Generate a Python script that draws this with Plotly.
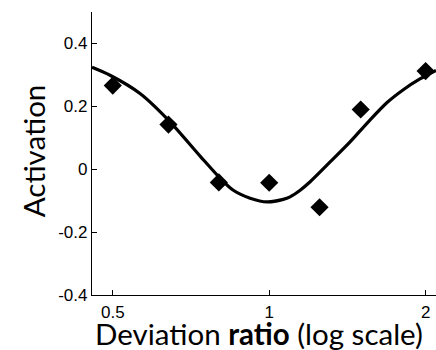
import plotly.graph_objects as go

# Data points (deviation ratio, activation)
ratio = [0.5, 0.64, 0.8, 1.0, 1.25, 1.5, 2.0]
activation = [0.266, 0.142, -0.042, -0.043, -0.121, 0.190, 0.312]

# Fitted curve
fit_ratio = [0.456, 0.495, 0.565, 0.645, 0.737, 0.805, 0.853, 0.919, 0.991, 1.064,
             1.097, 1.147, 1.199, 1.310, 1.431, 1.550, 1.686, 1.809, 1.950, 2.094]
fit_activation = [0.324, 0.298, 0.240, 0.150, 0.041, -0.029, -0.067, -0.092, -0.104, -0.096,
                  -0.088, -0.067, -0.040, 0.023, 0.087, 0.150, 0.212, 0.252, 0.287, 0.314]

x_tickvals = [0.5, 1, 2]
x_ticktext = ["0.5", "1", "2"]
y_tickvals = [-0.4, -0.2, 0, 0.2, 0.4]
y_ticktext = ["-0.4", "-0.2", "0", "0.2", "0.4"]

fig = go.Figure()
fig.add_trace(go.Scatter(x=fit_ratio, y=fit_activation, mode="lines",
                         line=dict(color="black", width=3.2, shape="spline", smoothing=0.8),
                         hoverinfo="skip", showlegend=False))
fig.add_trace(go.Scatter(x=ratio, y=activation, mode="markers",
                         marker=dict(symbol="diamond", size=14, color="black"),
                         showlegend=False))

axis_font = dict(family="Liberation Sans, Arial, sans-serif", size=17, color="black")
fig.update_layout(
    width=436, height=350,
    margin=dict(l=92, r=0, t=11.5, b=55),
    paper_bgcolor="white", plot_bgcolor="white",
    xaxis=dict(type="log", range=[-0.341, 0.321],
               tickvals=x_tickvals, ticktext=x_ticktext,
               ticks="inside", ticklen=5, tickcolor="black", tickwidth=1,
               ticklabelstandoff=1,
               showline=True, linecolor="black", linewidth=1.3,
               showgrid=False, zeroline=False, tickfont=axis_font),
    yaxis=dict(range=[-0.4, 0.5], tickvals=y_tickvals, ticktext=y_ticktext,
               ticks="inside", ticklen=5, tickcolor="black", tickwidth=1,
               showline=True, linecolor="black", linewidth=1.3,
               showgrid=False, zeroline=False, tickfont=axis_font),
    annotations=[
        dict(text="Deviation <b>ratio</b> (log scale)", xref="paper", yref="paper",
             x=0.4855, y=0, xanchor="center", yanchor="middle", yshift=-38,
             showarrow=False, font=dict(family="Lato, sans-serif", size=29.5, color="black")),
        dict(text="Activation", xref="paper", yref="paper",
             x=0, y=0.508, xanchor="center", yanchor="middle", xshift=-59,
             textangle=-90, showarrow=False,
             font=dict(family="Lato, sans-serif", size=29.5, color="black")),
    ],
)
fig.write_html("out.html")
